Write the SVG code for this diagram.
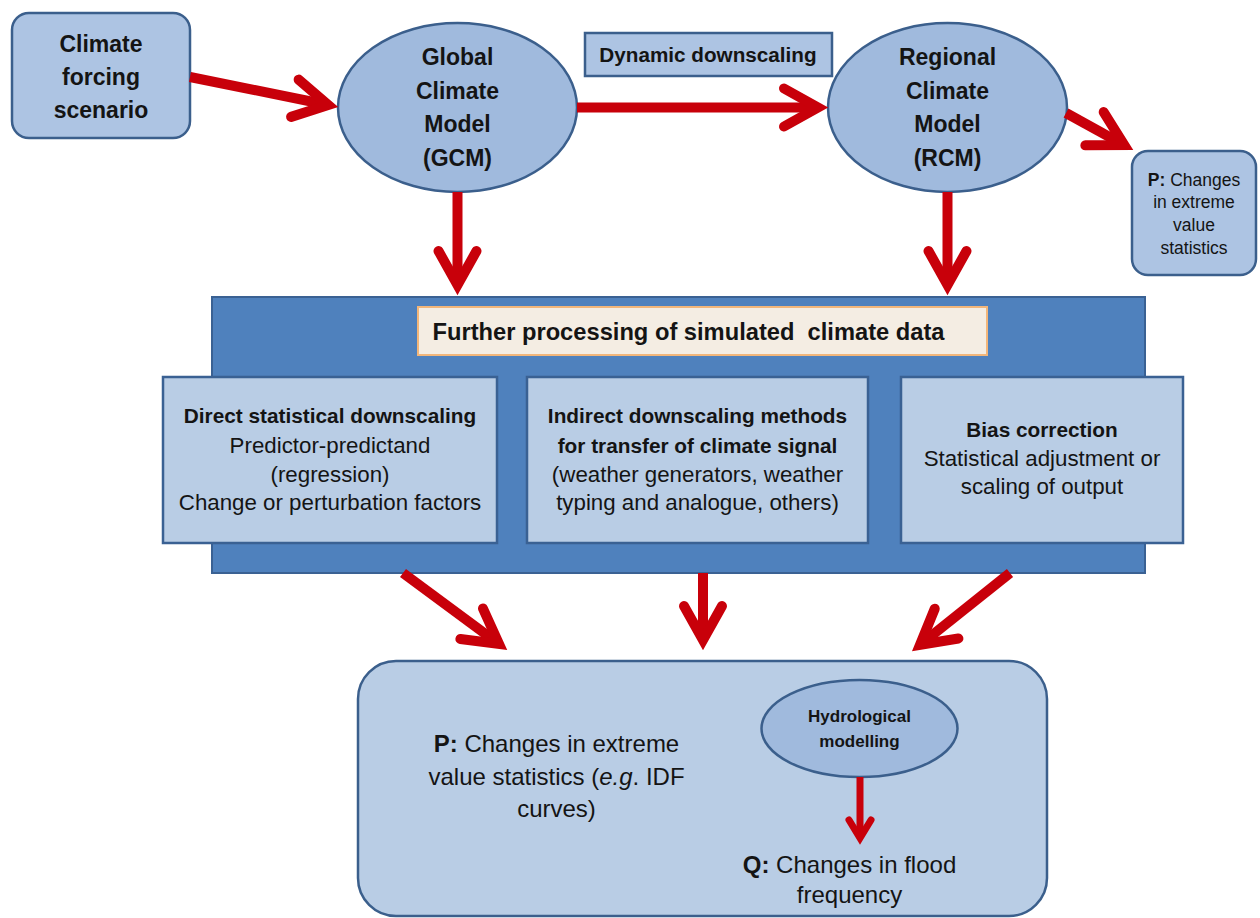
<svg xmlns="http://www.w3.org/2000/svg" width="1260" height="918" viewBox="0 0 1260 918">
<defs>
<style>
.t{font-family:"Liberation Sans",Arial,sans-serif;fill:#141414;text-anchor:middle}
.b{font-weight:bold}
.box{fill:#adc4e3;stroke:#3b5f8c;stroke-width:2.5}
.el{fill:#a0badd;stroke:#3b5f8c;stroke-width:2.5}
.inner{fill:#b9cde5;stroke:#3a6193;stroke-width:2.5}
.arr{fill:none;stroke:#c8000a;stroke-width:10;marker-end:url(#ah)}
.arrs{fill:none;stroke:#c8000a;stroke-width:7;marker-end:url(#ahs)}
</style>
<marker id="ah" markerUnits="userSpaceOnUse" orient="auto" overflow="visible" markerWidth="1" markerHeight="1" refX="0" refY="0">
<path d="M-34,-19 L0,0 L-34,19" fill="none" stroke="#c8000a" stroke-width="10" stroke-linejoin="miter" stroke-linecap="round"/>
</marker>
<marker id="ahs" markerUnits="userSpaceOnUse" orient="auto" overflow="visible" markerWidth="1" markerHeight="1" refX="0" refY="0">
<path d="M-18,-11 L0,0 L-18,11" fill="none" stroke="#c8000a" stroke-width="7" stroke-linejoin="miter" stroke-linecap="round"/>
</marker>
</defs>
<rect width="1260" height="918" fill="#ffffff"/>

<g id="climate-forcing">
<rect class="box" x="12" y="13" width="178" height="125" rx="17"/>
<text class="t b" font-size="23" x="101" y="52">Climate</text>
<text class="t b" font-size="23" x="101" y="85">forcing</text>
<text class="t b" font-size="23" x="101" y="118">scenario</text>
</g>

<g id="gcm">
<ellipse class="el" cx="457.5" cy="107.5" rx="119.5" ry="84.5"/>
<text class="t b" font-size="23" x="457.5" y="65">Global</text>
<text class="t b" font-size="23" x="457.5" y="99">Climate</text>
<text class="t b" font-size="23" x="457.5" y="132">Model</text>
<text class="t b" font-size="23" x="457.5" y="166">(GCM)</text>
</g>

<g id="dynamic-downscaling">
<rect class="box" x="585" y="33" width="247" height="43"/>
<text class="t b" font-size="20.7" x="708" y="62">Dynamic downscaling</text>
</g>

<g id="rcm">
<ellipse class="el" cx="947.5" cy="107.5" rx="119.5" ry="84.5"/>
<text class="t b" font-size="23" x="947.5" y="65">Regional</text>
<text class="t b" font-size="23" x="947.5" y="99">Climate</text>
<text class="t b" font-size="23" x="947.5" y="132">Model</text>
<text class="t b" font-size="23" x="947.5" y="166">(RCM)</text>
</g>

<g id="p-rcm">
<rect class="box" x="1132" y="151" width="124" height="124" rx="16"/>
<text class="t" font-size="17.5" x="1194" y="186"><tspan font-weight="bold">P:</tspan> Changes</text>
<text class="t" font-size="17.5" x="1194" y="208">in extreme</text>
<text class="t" font-size="17.5" x="1194" y="231">value</text>
<text class="t" font-size="17.5" x="1194" y="254">statistics</text>
</g>

<g id="further-processing">
<rect x="212" y="297" width="933" height="276" fill="#4f81bd" stroke="#3a6193" stroke-width="2"/>
<rect x="418" y="307" width="569" height="48" fill="#f4ede3" stroke="#f2b67a" stroke-width="2"/>
<text class="t b" font-size="23.7" x="688.5" y="340" xml:space="preserve">Further processing of simulated  climate data</text>
</g>

<g id="direct-statistical">
<rect class="inner" x="163" y="377" width="334" height="166"/>
<text class="t b" font-size="20.8" x="330" y="423">Direct statistical downscaling</text>
<text class="t" font-size="22.3" x="330" y="453">Predictor-predictand</text>
<text class="t" font-size="22.3" x="330" y="482">(regression)</text>
<text class="t" font-size="22.3" x="330" y="510">Change or perturbation factors</text>
</g>

<g id="indirect-downscaling">
<rect class="inner" x="527" y="377" width="341" height="166"/>
<text class="t b" font-size="20.8" x="697.5" y="423">Indirect downscaling methods</text>
<text class="t b" font-size="20.8" x="697.5" y="453">for transfer of climate signal</text>
<text class="t" font-size="22.3" x="697.5" y="482">(weather generators, weather</text>
<text class="t" font-size="22.3" x="697.5" y="510">typing and analogue, others)</text>
</g>

<g id="bias-correction">
<rect class="inner" x="901" y="377" width="282" height="166"/>
<text class="t b" font-size="20.8" x="1042" y="437">Bias correction</text>
<text class="t" font-size="22.3" x="1042" y="466">Statistical adjustment or</text>
<text class="t" font-size="22.3" x="1042" y="494">scaling of output</text>
</g>

<g id="results">
<rect x="358" y="661" width="689" height="255" rx="38" fill="#b9cde5" stroke="#3b5f8c" stroke-width="2.5"/>
<text class="t" font-size="24" x="556.5" y="752"><tspan font-weight="bold">P:</tspan> Changes in extreme</text>
<text class="t" font-size="24" x="556.5" y="785">value statistics (<tspan font-style="italic">e.g</tspan>. IDF</text>
<text class="t" font-size="24" x="556.5" y="817">curves)</text>
<text class="t" font-size="24" x="849.5" y="873"><tspan font-weight="bold">Q:</tspan> Changes in flood</text>
<text class="t" font-size="24" x="849.5" y="903">frequency</text>
</g>

<g id="hydrological-modelling">
<ellipse class="el" cx="859.5" cy="728.5" rx="98" ry="48.5"/>
<text class="t b" font-size="17" x="859.5" y="722">Hydrological</text>
<text class="t b" font-size="17" x="859.5" y="747">modelling</text>
</g>

<g id="connectors">
<path class="arr" d="M190,77 L328.2,105"/>
<path class="arr" d="M577,107.5 L818,107.5"/>
<path class="arr" d="M457.5,192 L457.5,285"/>
<path class="arr" d="M947.5,192 L947.5,285"/>
<path class="arr" d="M1066,113 L1124.3,145.1"/>
<path class="arr" d="M403,573 L499,644"/>
<path class="arr" d="M703,573 L703,640"/>
<path class="arr" d="M1010,573 L920,644.8"/>
<path class="arrs" d="M860,777 L860,838"/>
</g>
</svg>
